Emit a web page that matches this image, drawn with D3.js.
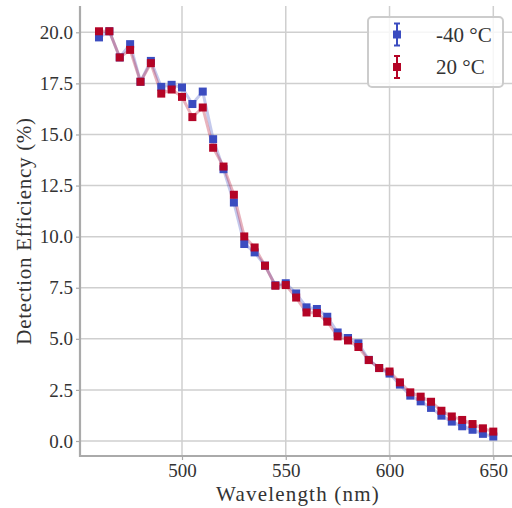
<!DOCTYPE html>
<html>
<head>
<meta charset="utf-8">
<script src="https://cdn.jsdelivr.net/npm/d3@7"></script>
<style>
  body { margin: 0; background: #fff; }
  text { font-family: "Liberation Serif", "DejaVu Serif", serif; fill: #333; }
</style>
</head>
<body>
<svg id="chart"></svg>
<script>
// wavelength in nm, efficiency in %
const wavelengths = d3.range(460, 651, 5);
const effCold = [19.75, 20.05, 18.77, 19.42, 17.58, 18.6, 17.33, 17.43, 17.3, 16.49,
  17.1, 14.77, 13.3, 11.67, 9.64, 9.23, 8.58, 7.62, 7.72, 7.22,
  6.54, 6.46, 6.08, 5.31, 5.04, 4.78, 3.97, 3.57, 3.3, 2.76,
  2.22, 1.94, 1.62, 1.24, 0.95, 0.72, 0.55, 0.35, 0.22];
const effWarm = [20.05, 20.05, 18.77, 19.14, 17.58, 18.49, 17.0, 17.2, 16.84, 15.85,
  16.32, 14.35, 13.43, 12.05, 10.01, 9.47, 8.58, 7.6, 7.63, 7.02,
  6.29, 6.26, 5.84, 5.12, 4.92, 4.6, 3.96, 3.57, 3.4, 2.87,
  2.38, 2.17, 1.92, 1.48, 1.2, 1.03, 0.83, 0.62, 0.46];
const yTicks = d3.range(0, 20.01, 2.5);
const xTicks = [500, 550, 600, 650];
const seriesNames = ["-40 °C", "20 °C"];
const seriesColors = ["#3b4cc0", "#b40426"];

const width = 512, height = 508;
const svg = d3.select("#chart").attr("width", width).attr("height", height);

const x = d3.scaleLinear().domain([500, 650]).range([182, 493.3]);
const y = d3.scaleLinear().domain([0, 20]).range([441, 32.3]);
const pLeft = 80, pTop = 6, pBottom = 456, pRight = width;

// grid
const grid = svg.append("g");
grid.selectAll(".gx").data(xTicks).join("line")
  .attr("x1", d => x(d)).attr("x2", d => x(d))
  .attr("y1", pTop).attr("y2", pBottom)
  .attr("stroke", "#cfcfcf").attr("stroke-width", 1.5);
grid.selectAll(".gy").data(yTicks).join("line")
  .attr("x1", pLeft).attr("x2", pRight)
  .attr("y1", d => y(d)).attr("y2", d => y(d))
  .attr("stroke", "#cfcfcf").attr("stroke-width", 1.5);

// axes
const xAxis = svg.append("g")
  .attr("transform", `translate(0, ${pBottom})`)
  .call(d3.axisBottom(x).tickValues(xTicks).tickSize(4).tickPadding(4));
const yAxis = svg.append("g")
  .attr("transform", `translate(${pLeft}, 0)`)
  .call(d3.axisLeft(y).tickValues(yTicks).tickFormat(d3.format(".1f")).tickSize(4).tickPadding(3));

[xAxis, yAxis].forEach(g => {
  g.select(".domain").remove();
  g.selectAll(".tick line").attr("stroke", "#aaa").attr("stroke-width", 1.2);
  g.selectAll(".tick text").style("font-size", "19px").attr("fill", "#333");
});

svg.append("line").attr("x1", pLeft).attr("x2", pLeft).attr("y1", pTop).attr("y2", pBottom + 1)
  .attr("stroke", "#aaa").attr("stroke-width", 2.2);
svg.append("line").attr("x1", pLeft - 1).attr("x2", pRight).attr("y1", pBottom).attr("y2", pBottom)
  .attr("stroke", "#aaa").attr("stroke-width", 2.2);

// series
const series = [effCold, effWarm].map((vals, i) => ({
  name: seriesNames[i],
  color: seriesColors[i],
  points: wavelengths.map((w, j) => ({ w, v: vals[j] }))
}));

const line = d3.line().x(d => x(d.w)).y(d => y(d.v));
const plot = svg.append("g");
series.forEach(s => {
  plot.append("path")
    .attr("d", line(s.points))
    .attr("fill", "none")
    .attr("stroke", s.color)
    .attr("stroke-opacity", 0.3)
    .attr("stroke-width", 3);
});
series.forEach(s => {
  plot.selectAll(null).data(s.points).join("rect")
    .attr("x", d => x(d.w) - 4).attr("y", d => y(d.v) - 4)
    .attr("width", 8).attr("height", 8)
    .attr("fill", s.color);
});

// legend
const legend = svg.append("g");
legend.append("rect")
  .attr("x", 368).attr("y", 17).attr("width", 135).attr("height", 70)
  .attr("rx", 4)
  .attr("fill", "#fff").attr("fill-opacity", 0.8)
  .attr("stroke", "#ccc").attr("stroke-width", 2);
series.forEach((s, i) => {
  const cy = 34.5 + i * 32.5;
  const g = legend.append("g");
  g.append("line").attr("x1", 397).attr("x2", 397).attr("y1", cy - 11).attr("y2", cy + 11)
    .attr("stroke", s.color).attr("stroke-width", 2);
  [cy - 11, cy + 11].forEach(yy => {
    g.append("line").attr("x1", 394).attr("x2", 400).attr("y1", yy).attr("y2", yy)
      .attr("stroke", s.color).attr("stroke-width", 2);
  });
  g.append("rect").attr("x", 393).attr("y", cy - 4).attr("width", 8).attr("height", 8)
    .attr("fill", s.color);
  g.append("text").attr("x", 436).attr("y", cy).attr("dy", "0.35em")
    .style("font-size", "21px").text(s.name);
});

// axis labels
svg.append("text")
  .attr("x", (pLeft + pRight) / 2 + 2).attr("y", 501)
  .attr("text-anchor", "middle")
  .style("font-size", "21px").style("letter-spacing", "1.2px")
  .text("Wavelength (nm)");
svg.append("text")
  .attr("transform", `translate(31, ${(pTop + pBottom) / 2}) rotate(-90)`)
  .attr("text-anchor", "middle")
  .style("font-size", "21px").style("letter-spacing", "0.7px")
  .text("Detection Efficiency (%)");
</script>
</body>
</html>
